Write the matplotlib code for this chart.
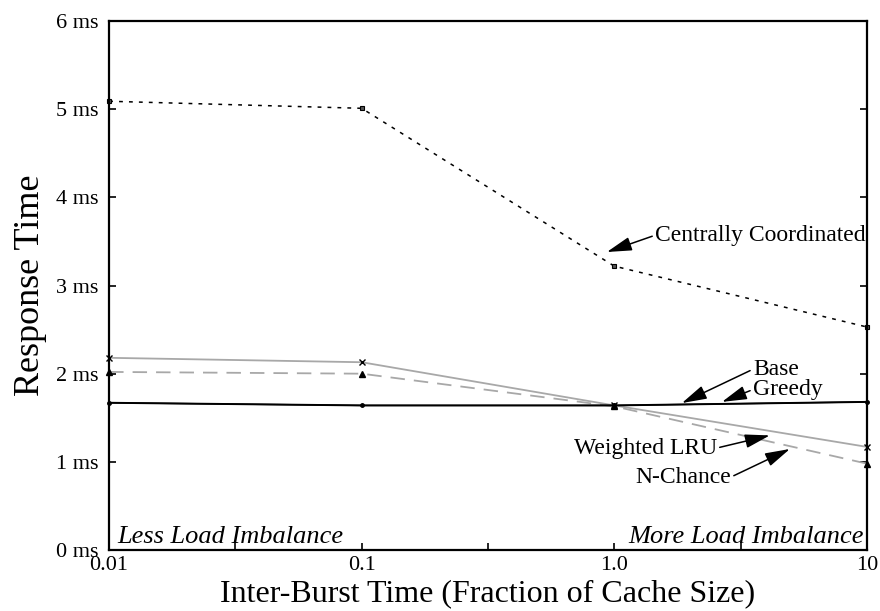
import numpy as np
import matplotlib.pyplot as plt

plt.rcParams['font.family'] = ['Liberation Serif', 'DejaVu Serif']

burst = [0.01, 0.1, 1.0, 10]
central = [5.09, 5.01, 3.22, 2.53]
weighted_lru = [2.18, 2.13, 1.64, 1.17]
n_chance = [2.02, 2.00, 1.63, 0.98]
base = [1.67, 1.64, 1.64, 1.68]
greedy = [1.67, 1.64, 1.64, 1.68]

fig = plt.figure(figsize=(8.8, 6.11), dpi=100)
ax = fig.add_axes([0.124, 0.0998, 0.861, 0.8658])

ax.plot(burst, central, color='k', lw=1.1, linestyle=(0, (2.5, 4)),
        marker='s', ms=3.5, mfc='#555555', mec='k', mew=0.8, clip_on=False)
ax.plot(burst, weighted_lru, color='#a8a8a8', lw=1.3,
        marker='x', ms=4, mec='k', mew=1, clip_on=False)
ax.plot(burst, n_chance, color='#a8a8a8', lw=1.3, linestyle=(0, (8, 5)),
        marker='^', ms=4.5, mfc='k', mec='k', clip_on=False)
ax.plot(burst, greedy, color='k', lw=1.0, clip_on=False)
ax.plot(burst, base, color='k', lw=1.4, marker='o', ms=2.5, mfc='k', mec='k',
        clip_on=False)

ax.set_xscale('log')
ax.set_xlim(0.01, 10)
ax.set_ylim(0, 6)
ax.set_xticks([0.01, 0.1, 1.0, 10])
ax.set_xticklabels(['0.01', '0.1', '1.0', '10'], fontsize=16)
ax.set_xticks([10**-1.5, 10**-0.5, 10**0.5], minor=True)
ax.set_xticklabels([], minor=True)
ax.set_yticks(range(7))
ax.set_yticklabels(['%d ms' % v for v in range(7)], fontsize=16)
ax.tick_params(axis='x', which='both', direction='in', length=5, width=1.2, top=False, pad=4)
ax.tick_params(axis='y', direction='in', length=5, width=1.2, right=True, pad=8)
for s in ax.spines.values():
    s.set_linewidth(1.6)

ax.set_xlabel('Inter-Burst Time (Fraction of Cache Size)', fontsize=23, labelpad=3)
ax.set_ylabel('Response Time', fontsize=26, labelpad=6)

arrow = dict(arrowstyle='-|>,head_length=0.9,head_width=0.25', color='k', lw=1.1,
             shrinkA=0, shrinkB=0)

def label(txt, tip, pos, ha='left'):
    a = dict(arrow)
    a['relpos'] = (0, 0.5) if ha == 'left' else (1, 0.5)
    ax.annotate(txt, xy=tip, xytext=pos, ha=ha, va='center', fontsize=17,
                arrowprops=a)

label('Centrally Coordinated', (0.935, 3.38), (1.45, 3.57))
label('Base', (1.853, 1.667), (3.54, 2.05))
label('Greedy', (2.67, 1.68), (3.54, 1.82))
label('Weighted LRU', (4.13, 1.30), (2.55, 1.157), ha='right')
label('N-Chance', (4.96, 1.146), (2.90, 0.828), ha='right')

ax.text(0.011, 0.025, 'Less Load Imbalance', transform=ax.transAxes,
        fontsize=19, style='italic', ha='left', va='center')
ax.text(0.996, 0.025, 'More Load Imbalance', transform=ax.transAxes,
        fontsize=19, style='italic', ha='right', va='center')

fig.savefig('out.png', dpi=100)
